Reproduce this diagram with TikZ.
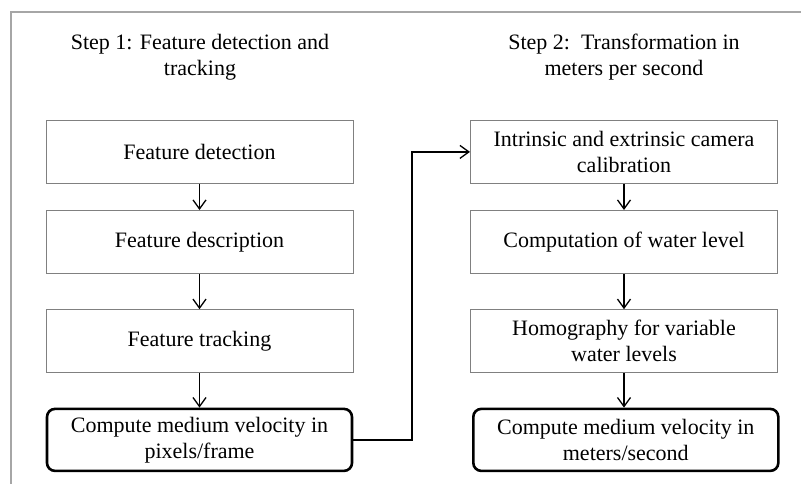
\documentclass[tikz,border=0pt]{standalone}
\usepackage{fontspec}
\setmainfont{Liberation Serif}
\usetikzlibrary{arrows.meta}
\definecolor{framegray}{HTML}{A6A6A6}
\definecolor{boxgray}{HTML}{808080}
\begin{document}
\begin{tikzpicture}[x=1pt,y=-1pt,
  every node/.style={font=\fontsize{22}{26}\selectfont, text=black, align=center, inner sep=0pt},
  plainbox/.style={draw=boxgray, line width=1pt, minimum width=307pt, minimum height=63pt},
  endbox/.style={draw=black, line width=2.6pt, rounded corners=8pt, minimum width=305pt, minimum height=62pt},
  arr/.style={draw=black, line width=1.4pt, -{Straight Barb[length=9pt,width=13pt,line width=1.3pt]}},
  framestyle/.style={draw=framegray, line width=1.3pt}]
\useasboundingbox (0,0) rectangle (801,484);
\draw[framestyle] (11,484) -- (11,12) -- (801,12);

\node (t1) at (200,57) {Step 1: Feature detection and\\tracking};
\node (t2) at (624,57) {Step 2:\ \ Transformation in\\meters per second};

\node[plainbox] (L1) at (199.5,151.9) {Feature detection};
\node[plainbox] (L2) at (199.5,242) {Feature description};
\node[plainbox] (L3) at (199.5,341.2) {Feature tracking};
\node[endbox] (L4) at (199.5,439.9) {Compute medium velocity in\\pixels/frame};

\node[plainbox] (R1) at (624,151.9) {Intrinsic and extrinsic camera\\calibration};
\node[plainbox] (R2) at (624,242) {Computation of water level};
\node[plainbox] (R3) at (624,341.2) {Homography for variable\\water levels};
\node[endbox] (R4) at (625.8,439.9) {Compute medium velocity in\\meters/second};

\coordinate (mid) at (412,300);

\draw[arr] (L1) -- (L2);
\draw[arr] (L2) -- (L3);
\draw[arr] (L3) -- (L4);
\draw[arr] (R1) -- (R2);
\draw[arr] (R2) -- (R3);
\draw[arr] (R3.south) -- (R3.south |- R4.north);
\draw[arr] (L4.east) -- (L4.east -| mid) |- (R1.west);
\end{tikzpicture}
\end{document}
